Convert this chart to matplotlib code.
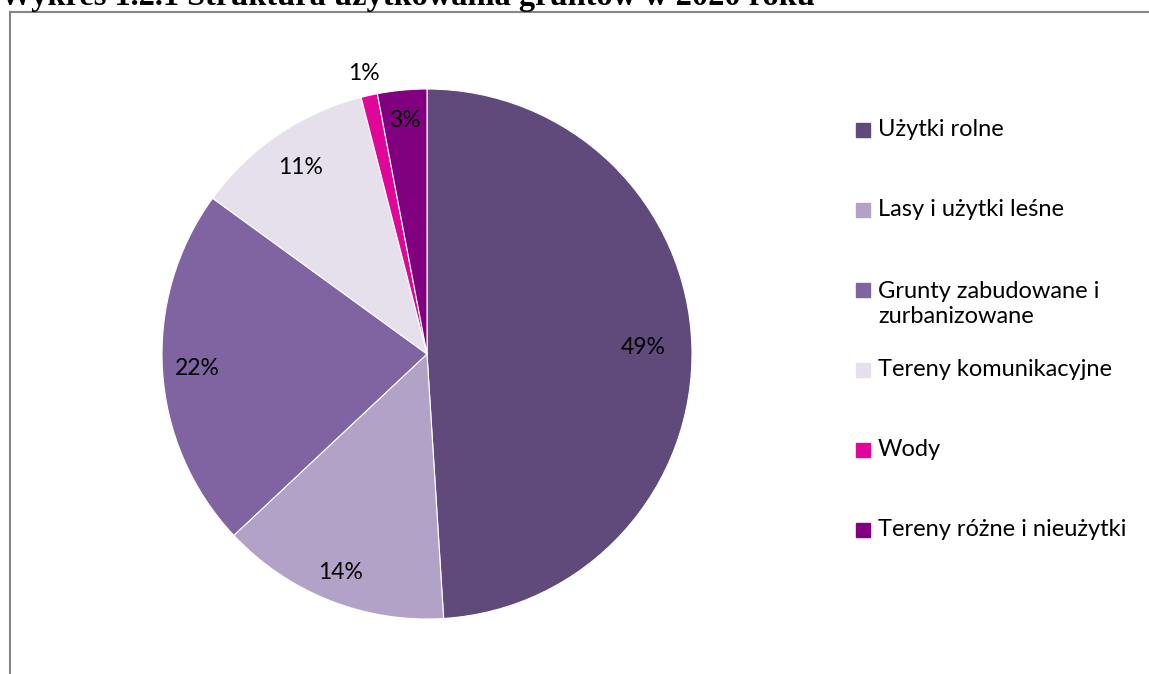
import matplotlib
matplotlib.use('Agg')
import numpy as np
import matplotlib.pyplot as plt
from matplotlib.patches import Rectangle
from matplotlib.lines import Line2D

W, H = 1149, 674

categories = ['Użytki rolne', 'Lasy i użytki leśne', 'Grunty zabudowane i\nzurbanizowane',
              'Tereny komunikacyjne', 'Wody', 'Tereny różne i nieużytki']
shares = [49, 14, 22, 11, 1, 3]
colors = ['#604A7B', '#B3A2C7', '#8064A2', '#E6E0EC', '#E0069A', '#800080']
title = 'Wykres 1.2.1 Struktura użytkowania gruntów w 2020 roku'

fig = plt.figure(figsize=(W / 100, H / 100), dpi=100)

# pie axes: centre ~ (427, 354) px, radius ~ 265 px
cx, cy, r = 427, 354, 265
ax = fig.add_axes([(cx - r) / W, (H - cy - r) / H, 2 * r / W, 2 * r / H])
wedges, texts = ax.pie(shares, colors=colors, startangle=90, counterclock=False,
                       wedgeprops=dict(edgecolor='white', linewidth=0.8), radius=1.0)
ax.set_xlim(-1, 1)
ax.set_ylim(-1, 1)
ax.set_aspect('equal')

# percentage labels, distance from centre as fraction of radius
label_dist = [0.815, 0.885, 0.87, 0.85, 1.085, 0.885]
for w, val, d in zip(wedges, shares, label_dist):
    ang = np.deg2rad((w.theta1 + w.theta2) / 2)
    ax.text(d * np.cos(ang), d * np.sin(ang), f'{val}%', ha='center', va='center',
            fontsize=16.5, family='Lato', color='#000000')

# legend, drawn by hand like the Excel one
marker_y = [130, 210, 290, 370, 450, 530]
for lab, col, y in zip(categories, colors, marker_y):
    fig.patches.append(Rectangle((856 / W, (H - y - 7) / H), 14 / W, 14 / H,
                                 transform=fig.transFigure, color=col))
    nlines = lab.count('\n') + 1
    ty = y + (nlines - 1) * 14   # centre of the text block
    fig.text(878 / W, (H - ty) / H, lab, ha='left', va='center', fontsize=17,
             family='Lato', linespacing=1.2)

# chart border (only left and top visible)
fig.add_artist(Line2D([9.5 / W, 9.5 / W], [0, (H - 12) / H], color='#868686', lw=1.5))
fig.add_artist(Line2D([9.5 / W, 1], [(H - 12) / H, (H - 12) / H], color='#868686', lw=1.5))

# title, clipped at the top as in the original
fig.text(0, (H - 4.5) / H, title, ha='left', va='baseline', fontsize=23.3,
         family='Liberation Serif', fontweight='bold')

fig.savefig('out.png', dpi=100)
